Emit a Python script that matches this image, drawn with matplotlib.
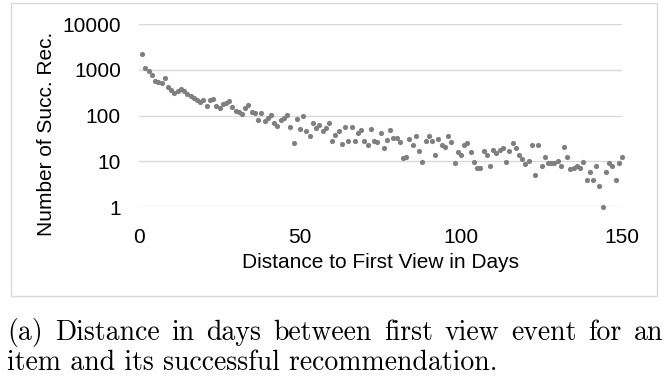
import matplotlib
matplotlib.use("Agg")
import matplotlib.pyplot as plt
from matplotlib.patches import Rectangle

days = list(range(1, 151))
counts = [
    2200, 1100, 920, 780, 580, 540, 520, 660, 410, 370,
    310, 340, 380, 335, 300, 270, 240, 215, 200, 220,
    158, 215, 228, 165, 148, 180, 190, 212, 155, 128,
    122, 108, 145, 170, 122, 116, 78, 112, 74, 87,
    103, 68, 59, 78, 87, 103, 57, 25, 83, 50,
    100, 45, 35, 68, 53, 62, 47, 53, 68, 28,
    38, 47, 24, 55, 28, 57, 28, 41, 48, 28,
    23, 51, 28, 26, 41, 19, 29, 48, 32, 32,
    26, 11.6, 12.6, 30, 23, 36, 17, 9.8, 28, 35,
    28, 13.7, 31, 23, 21, 35, 27, 9, 16, 14,
    23, 25, 15.8, 9.8, 7, 7, 17, 14, 7.9, 17.7,
    15, 18, 19, 9.8, 17, 25, 19, 14, 11, 8.6,
    10, 23, 4.9, 23, 7.9, 12.6, 9, 9, 9, 10,
    7.9, 20, 12.6, 6.9, 7, 7.9, 7, 9.8, 3.9, 5.8,
    3.9, 7.9, 2.9, 1, 5.8, 9, 7.9, 3.9, 9, 12.6,
]
x_ticks = [0, 50, 100, 150]
y_ticks = [1, 10, 100, 1000, 10000]
y_tick_labels = ["1", "10", "100", "1000", "10000"]
x_label = "Distance to First View in Days"
y_label = "Number of Succ. Rec."
caption_line1 = "(a) Distance in days between first view event for an"
caption_line2 = "item and its successful recommendation."

W, H = 672, 382
fig = plt.figure(figsize=(W / 100, H / 100), dpi=100)
fig.patch.set_facecolor("white")

# outer light frame
fig.patches.append(Rectangle((11 / W, 1 - 296 / H), (657 - 11) / W, (296 - 3) / H,
                             transform=fig.transFigure, fill=False,
                             edgecolor="#d9d9d9", linewidth=1.0))

left, right, top, bottom = 139, 622, 24, 207
ax = fig.add_axes([left / W, 1 - bottom / H, (right - left) / W, (bottom - top) / H])
ax.set_yscale("log")
ax.set_xlim(0, 150)
ax.set_ylim(1, 10000)
ax.scatter(days, counts, s=14, color="#7f7f7f", linewidths=0, zorder=3, clip_on=False)

for s in ax.spines.values():
    s.set_visible(False)
ax.set_yticks(y_ticks)
ax.set_yticklabels(y_tick_labels)
ax.minorticks_off()
ax.set_xticks(x_ticks)
ax.grid(axis="y", color="#d9d9d9", linewidth=1.0, zorder=0)
ax.tick_params(axis="both", length=0, labelsize=15, colors="black")
ax.tick_params(axis="y", pad=13)
ax.tick_params(axis="x", pad=15)
for lab in ax.get_xticklabels() + ax.get_yticklabels():
    lab.set_fontfamily("Liberation Sans")

fig.text(380 / W, 1 - 263 / H, x_label, ha="center", va="center",
         fontsize=15, fontfamily="Liberation Sans")
fig.text(46 / W, 1 - 134 / H, y_label, ha="center", va="center", rotation=90,
         fontsize=15, fontfamily="Liberation Sans")

# caption: first line justified, second left-aligned
cap_size = 20
fig.canvas.draw()
renderer = fig.canvas.get_renderer()
words = caption_line1.split()
texts = []
widths = []
for w in words:
    t = fig.text(0, 1 - 340 / H, w, fontsize=cap_size, fontfamily="cmr10",
                 ha="left", va="baseline")
    texts.append(t)
    widths.append(t.get_window_extent(renderer).width)
x0, x1 = 7, 663
gap = (x1 - x0 - sum(widths)) / (len(words) - 1)
xpos = x0
for t, wd in zip(texts, widths):
    t.set_x(xpos / W)
    xpos += wd + gap
fig.text(x0 / W, 1 - 370 / H, caption_line2, fontsize=cap_size, fontfamily="cmr10",
         ha="left", va="baseline")

fig.savefig("out.png", dpi=100, facecolor="white")
